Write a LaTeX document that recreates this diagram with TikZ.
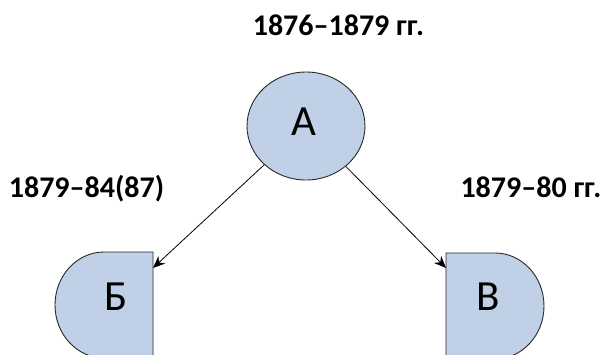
\documentclass[tikz,border=0pt]{standalone}
\usepackage{fontspec}
\setmainfont{Carlito}
\usetikzlibrary{shapes.geometric,arrows.meta}
\definecolor{shapefill}{RGB}{192,208,230}
\definecolor{shapeline}{RGB}{40,40,40}
\tikzset{
  shapestyle/.style={fill=shapefill,draw=shapeline,line width=0.9pt},
  datelabel/.style={font=\fontsize{30}{33}\selectfont\bfseries,inner sep=0pt,anchor=base},
  letter/.style={font=\fontsize{43}{46}\selectfont,inner sep=0pt,anchor=base},
  conn/.style={draw=black,line width=0.8pt,-{Stealth[length=12pt,width=10pt]}}
}
\begin{document}
\begin{tikzpicture}[x=1pt,y=-1pt]
\useasboundingbox (0,0) rectangle (603,354);
\clip (0,0) rectangle (603,354);
% node A
\node[ellipse,shapestyle,minimum width=118pt,minimum height=108pt,inner sep=0pt] (A) at (306,126) {};
\node[letter] (Alab) at (304,135) {А};
% shape B
\draw[shapestyle] (153,252) -- (104,252) arc[start angle=270,end angle=90,x radius=49,y radius=53] -- (153,360) -- cycle;
\node[letter] (Blab) at (116.5,310) {Б};
% shape V
\draw[shapestyle] (446,253) -- (495,253) arc[start angle=270,end angle=450,x radius=49,y radius=53] -- (446,360) -- cycle;
\node[letter] (Vlab) at (488.5,310) {В};
% connector targets
\coordinate (Bin) at (153,268);
\coordinate (Vin) at (446,268);
\draw[conn] (A) -- (Bin);
\draw[conn] (A) -- (Vin);
% labels
\node[datelabel] (tA) at (338.5,35) {1876–1879 гг.};
\node[datelabel] (tB) at (86.5,197) {1879–84(87)};
\node[datelabel] (tV) at (531,197) {1879–80 гг.};
\end{tikzpicture}
\end{document}
